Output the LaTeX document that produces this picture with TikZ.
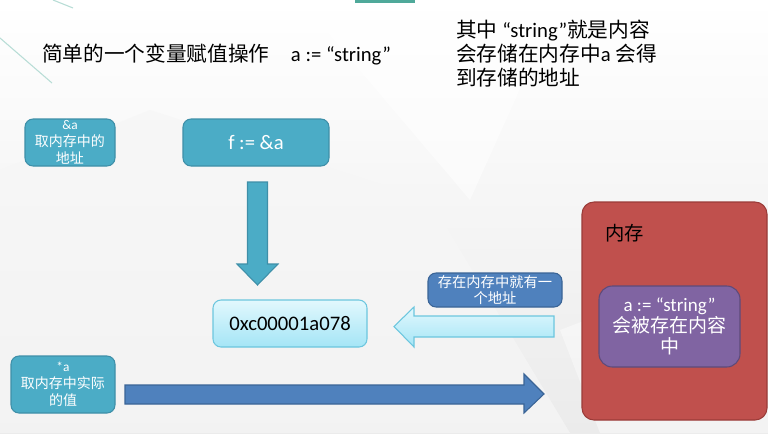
\documentclass[tikz,border=0pt]{standalone}
\usepackage{fontspec}
\setmainfont{Carlito}
\newfontfamily\cjk{Noto Sans CJK SC}
\newcommand{\zh}[1]{{\cjk #1}}

\definecolor{tealfill}{HTML}{4BACC6}
\definecolor{tealline}{HTML}{3E8FA8}
\definecolor{bluefill}{HTML}{4F81BD}
\definecolor{blueline}{HTML}{3A6496}
\definecolor{redfill}{HTML}{C0504D}
\definecolor{redline}{HTML}{9A3B38}
\definecolor{purplefill}{HTML}{8064A2}
\definecolor{purpleline}{HTML}{5E4A7A}
\definecolor{icetop}{HTML}{E2F8FD}
\definecolor{icebottom}{HTML}{A4E5F6}
\definecolor{iceline}{HTML}{6CC6DE}
\definecolor{accent}{HTML}{4FA99A}
\definecolor{accentsoft}{HTML}{B8DDD6}
\definecolor{bgbottom}{HTML}{EBEBEB}
\definecolor{bgfacet}{HTML}{F6F6F6}

\tikzset{
  cellbox/.style={rounded corners=6pt, align=center, inner sep=0pt, line width=0.8pt},
  tealcell/.style={cellbox, draw=tealline, fill=tealfill, text=white},
  bluecell/.style={cellbox, draw=blueline, fill=bluefill, text=white},
  icecell/.style={cellbox, draw=iceline, top color=icetop, bottom color=icebottom, text=black},
  redcell/.style={cellbox, draw=redline, fill=redfill, rounded corners=9pt},
  purplecell/.style={cellbox, draw=purpleline, fill=purplefill, text=white, rounded corners=10pt},
  tealarrow/.style={draw=tealline, fill=tealfill, line width=0.8pt, line join=miter},
  icearrow/.style={draw=iceline, top color=icetop, bottom color=icebottom, line width=0.8pt},
  bluearrow/.style={draw=blueline, fill=bluefill, line width=0.8pt},
  big/.style={font=\fontsize{15.5}{18}\selectfont},
}

\begin{document}
\begin{tikzpicture}[x=0.75pt, y=-0.75pt]
  \useasboundingbox (0,0) rectangle (768,433);

  % slide background with faint facets
  \fill[top color=white, bottom color=bgbottom] (0,0) rectangle (768,433);
  \fill[bgfacet, opacity=0.7] (0,170) -- (150,110) -- (430,200) -- (570,433) -- (0,433) -- cycle;
  \fill[white, opacity=0.5] (300,0) -- (560,0) -- (470,200) -- cycle;
  \fill[white, opacity=0.4] (560,330) -- (768,250) -- (768,433) -- (600,433) -- cycle;

  % decorative accents
  \fill[accent] (355,0) rectangle (415,3);
  \draw[accentsoft, line width=0.8pt] (0,38) -- (52,83);
  \draw[accentsoft, line width=0.8pt] (53,0) -- (73,8);

  % headings
  \node[big, anchor=base west, inner sep=0pt] (title) at (42,61)
    {\zh{简单的一个变量赋值操作}\hspace{16pt}a := “string”};
  \node[big, anchor=north west, inner sep=0pt, align=left] (note) at (456,20)
    {\zh{其中} “string”\zh{就是内容}\\
     \zh{会存储在内存中}a \zh{会得}\\
     \zh{到存储的地址}};

  % operator boxes
  \node[tealcell, minimum width=67.5pt, minimum height=35.25pt,
        font=\fontsize{10.5}{13}\selectfont] (addr) at (70,142.5)
    {{\fontsize{10}{13}\selectfont\&a}\\\zh{取内存中的}\\\zh{地址}};
  \node[tealcell, big, minimum width=109.5pt, minimum height=35.25pt] (assign) at (256,142.5)
    {f := \&a};
  \node[icecell, big, minimum width=115.5pt, minimum height=35.25pt] (ptr) at (290,323.5)
    {0xc00001a078};
  \node[bluecell, minimum width=100.5pt, minimum height=25.5pt,
        font=\fontsize{10.7}{12}\selectfont] (where) at (495,290)
    {\zh{存在内存中就有一}\\\zh{个地址}};
  \node[tealcell, minimum width=78pt, minimum height=42.75pt,
        font=\fontsize{10.5}{12.75}\selectfont] (deref) at (63,384.5)
    {{\fontsize{10}{12.75}\selectfont *a}\\\zh{取内存中实际}\\\zh{的值}};

  % memory block
  \node[redcell, minimum width=138.75pt, minimum height=163.5pt] (mem) at (674.5,311) {};
  \node[anchor=west, inner sep=0pt, font=\fontsize{14.5}{16}\selectfont] (memlabel) at (605,233)
    {\zh{内存}};
  \node[purplecell, minimum width=105.75pt, minimum height=60.75pt,
        font=\fontsize{14.25}{16}\selectfont] (value) at (669.5,326.5)
    {a := “string”\\\zh{会被存在内容}\\\zh{中}};

  % block arrows
  \draw[tealarrow] (247.5,182) -- (267.5,182) -- (267.5,264) -- (278,264)
    -- (257.5,285) -- (237,264) -- (247.5,264) -- cycle;
  \draw[icearrow] (554,316) -- (414,316) -- (414,307) -- (394,326.5)
    -- (414,347) -- (414,337) -- (554,337) -- cycle;
  \draw[bluearrow] (125,385) -- (524,385) -- (524,374) -- (544,394)
    -- (524,413) -- (524,404) -- (125,404) -- cycle;
\end{tikzpicture}
\end{document}
